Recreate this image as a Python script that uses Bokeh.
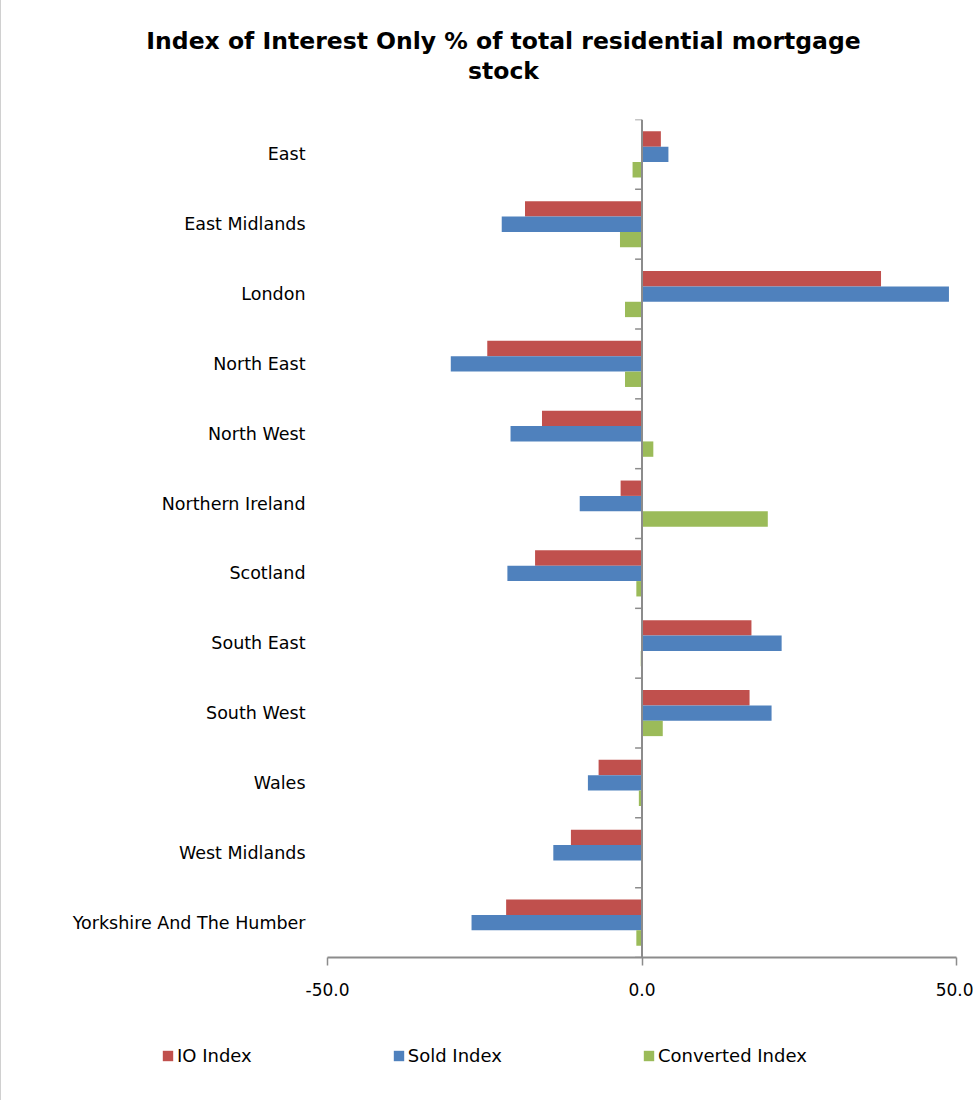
from bokeh.plotting import figure
from bokeh.models import (ColumnDataSource, FixedTicker, Range1d, Span, Legend,
                          LegendItem, Label, NumeralTickFormatter)
from bokeh.layouts import column, row
from bokeh.transform import dodge
from bokeh.embed import file_html
from bokeh.resources import INLINE

regions = ["East", "East Midlands", "London", "North East", "North West",
           "Northern Ireland", "Scotland", "South East", "South West", "Wales",
           "West Midlands", "Yorkshire And The Humber"]
io_index = [3.0, -18.6, 38.0, -24.6, -15.9, -3.4, -17.0, 17.4, 17.1, -6.9, -11.3, -21.6]
sold_index = [4.2, -22.3, 48.8, -30.4, -20.9, -9.9, -21.4, 22.2, 20.6, -8.6, -14.1, -27.1]
converted_index = [-1.5, -3.5, -2.7, -2.7, 1.8, 20.0, -0.9, -0.2, 3.3, -0.5, 0.1, -0.9]
x_ticks = [-50, 0, 50]
series_names = ["IO Index", "Sold Index", "Converted Index"]
series_colors = ["#C0504D", "#4F81BD", "#9BBB59"]
title_lines = ["Index of Interest Only % of total residential mortgage", "stock"]

FONT = "DejaVu Sans"
W = 972

pos = list(range(len(regions)))
src = ColumnDataSource(dict(pos=pos, io=io_index, sold=sold_index, conv=converted_index))

# ---------- title strip ----------
tf = figure(width=W, height=100, output_backend="svg", toolbar_location=None,
            x_axis_location=None, y_axis_location=None, min_border=0,
            outline_line_color=None, x_range=Range1d(0, 1), y_range=Range1d(0, 1))
tf.grid.visible = False
for txt, yy in zip(title_lines, [60, 30]):
    tf.add_layout(Label(x=502, y=yy, x_units="screen", y_units="screen", text=txt,
                        text_align="center", text_baseline="middle", text_font=FONT,
                        text_font_style="bold", text_font_size="23.5px",
                        text_color="#000000"))

# ---------- main chart ----------
p = figure(width=W, height=910, output_backend="svg", toolbar_location=None,
           x_range=Range1d(-50, 50), y_range=Range1d(len(regions) - 0.5, -0.5),
           min_border_left=326, min_border_right=17, min_border_top=19,
           min_border_bottom=53, outline_line_color=None)
p.grid.visible = False

bar_h = 0.22
r_io = p.hbar(y=dodge("pos", -0.22), right="io", left=0, height=bar_h, source=src,
              fill_color=series_colors[0], line_color=None)
r_sold = p.hbar(y=dodge("pos", 0.0), right="sold", left=0, height=bar_h, source=src,
                fill_color=series_colors[1], line_color=None)
r_conv = p.hbar(y=dodge("pos", 0.22), right="conv", left=0, height=bar_h, source=src,
                fill_color=series_colors[2], line_color=None)

p.add_layout(Span(location=0, dimension="height", line_color="#8c8c8c", line_width=2))
bounds = [i - 0.5 for i in range(len(regions) + 1)]
p.segment(x0=[-1.1] * len(bounds), x1=[0] * len(bounds), y0=bounds, y1=bounds,
          line_color="#8c8c8c", line_width=1.5)

xa = p.xaxis[0]
xa.ticker = FixedTicker(ticks=x_ticks)
xa.formatter = NumeralTickFormatter(format="0.0")
xa.axis_line_color = "#8c8c8c"
xa.axis_line_width = 2
xa.major_tick_line_color = "#8c8c8c"
xa.major_tick_line_width = 1.5
xa.major_tick_in = 0
xa.major_tick_out = 8
xa.minor_tick_line_color = None
xa.major_label_text_font = FONT
xa.major_label_text_font_size = "17px"
xa.major_label_text_color = "#000000"
xa.major_label_standoff = 17

ya = p.yaxis[0]
ya.ticker = FixedTicker(ticks=pos)
ya.major_label_overrides = {i: r for i, r in enumerate(regions)}
ya.axis_line_color = None
ya.major_tick_line_color = None
ya.minor_tick_line_color = None
ya.major_label_text_font = FONT
ya.major_label_text_font_size = "17.5px"
ya.major_label_text_color = "#000000"
ya.major_label_standoff = 16

# ---------- legend strip ----------
lf = figure(width=W, height=90, output_backend="svg", toolbar_location=None,
            x_axis_location=None, y_axis_location=None, min_border=0,
            outline_line_color=None, x_range=Range1d(0, 1), y_range=Range1d(100, 101))
lf.grid.visible = False
items = []
for name, col, key in zip(series_names, series_colors, ["io", "sold", "conv"]):
    r = lf.hbar(y="pos", right=key, left=0, height=bar_h, source=src,
                fill_color=col, line_color=None)
    items.append(LegendItem(label=name, renderers=[r]))
legend = Legend(items=items, orientation="horizontal", location=(160, 34),
                border_line_color=None, background_fill_color=None,
                label_text_font=FONT, label_text_font_size="18px",
                label_text_color="#000000", glyph_width=13, glyph_height=13,
                label_standoff=3, spacing=140, padding=0, margin=0)
lf.add_layout(legend, "center")

page = column(row(tf), p, row(lf), spacing=0,
              styles={"border-left": "1px solid #d0d0d0"})
open("out.html", "w").write(file_html(page, INLINE))
